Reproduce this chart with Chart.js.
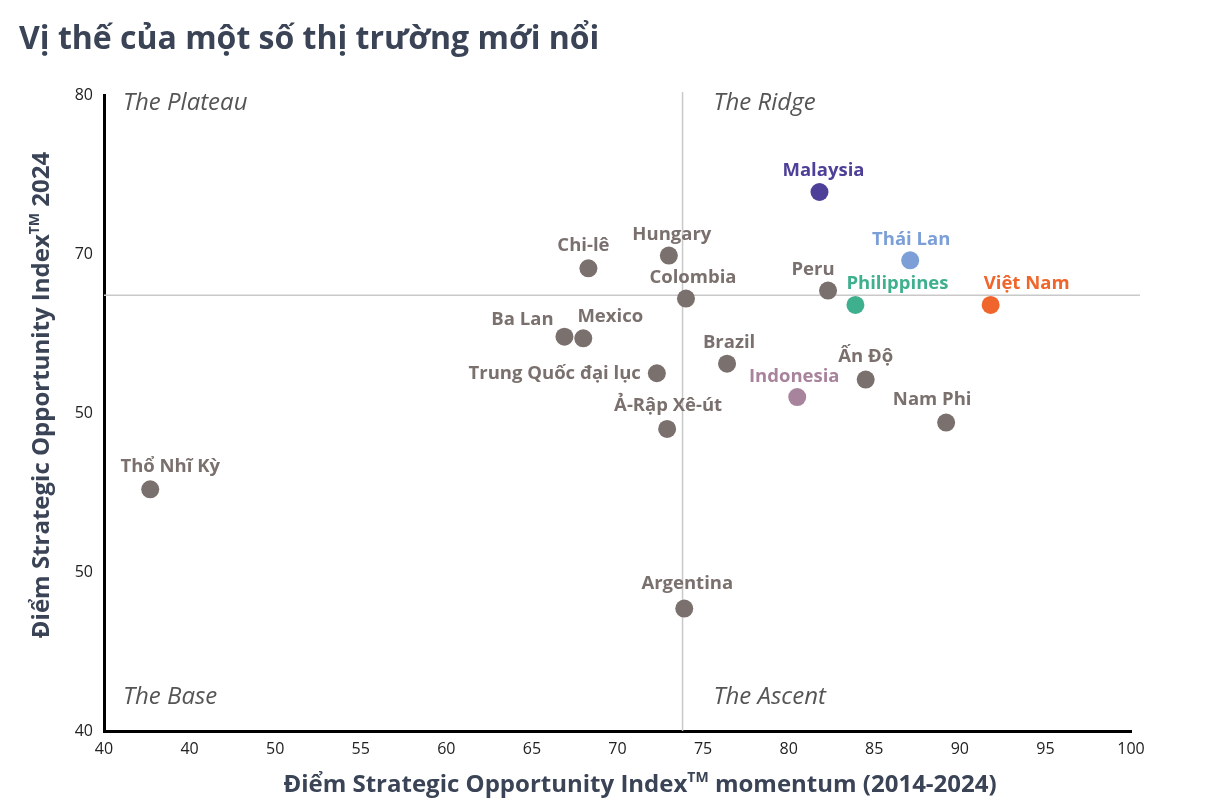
<!DOCTYPE html>
<html><head><meta charset="utf-8">
<script src="https://cdn.jsdelivr.net/npm/chart.js@4/dist/chart.umd.min.js"></script>
<style>html,body{margin:0;padding:0;background:#fff;} #wrap{width:1212px;height:810px;position:relative}</style>
</head><body><div id="wrap"><canvas id="c" width="1212" height="810"></canvas></div>
<script>
// ---- data ----
const countries = ['Malaysia','Thái Lan','Peru','Philippines','Việt Nam','Hungary','Chi-lê','Colombia','Ba Lan','Mexico','Brazil','Trung Quốc đại lục','Ấn Độ','Indonesia','Nam Phi','Ả-Rập Xê-út','Thổ Nhĩ Kỳ','Argentina'];
const momentum  = [81.8, 87.1, 82.3, 83.9, 91.8, 73.0, 68.3, 74.0, 66.9, 68.0, 76.4, 72.3, 84.5, 80.5, 89.2, 72.9, 42.7, 73.9];
const score2024 = [73.9, 69.6, 67.7, 66.8, 66.8, 69.9, 69.1, 67.2, 64.8, 64.7, 63.1, 62.5, 62.1, 61.0, 59.4, 59.0, 55.2, 47.7];
const pointColors = ['#4e3f99','#7b9fd6','#7a706d','#3fb08e','#f0652b','#7a706d','#7a706d','#7a706d','#7a706d','#7a706d','#7a706d','#7a706d','#7a706d','#a8839c','#7a706d','#7a706d','#7a706d','#7a706d'];
const xTickLabels = ['40','40','50','55','60','65','70','75','80','85','90','95','100'];
const yTickLabels = ['40','50','50','70','80'];
const quadrantX = 73.8;
const quadrantY = 67.4;
const quadrantNames = ['The Plateau','The Ridge','The Base','The Ascent'];
const chartTitle = 'Vị thế của một số thị trường mới nổi';
const xTitleParts = [['Điểm Strategic Opportunity Index',false],['TM',true],[' momentum (2014-2024)',false]];
const yTitleParts = [['Điểm Strategic Opportunity Index',false],['TM',true],[' 2024',false]];
// label placement (offset from point centre, text align)
const labelOffsets = [[4,-21,'center'],[1,-21,'center'],[-15,-21,'center'],[42,-21,'center'],[36,-21,'center'],[3,-21,'center'],[-5,-23,'center'],[7,-21,'center'],[-42,-17,'center'],[27,-22,'center'],[2,-21,'center'],[-16,0,'right'],[0,-23,'center'],[-3,-20,'center'],[-14,-23,'center'],[1,-23,'center'],[20,-23,'center'],[3,-25,'center']];

const FONT = "'Open Sans', 'Noto Sans', sans-serif";
const TITLE_COLOR = '#3a4456';

function drawRich(ctx, parts, x, y, size, color) {
  ctx.save();
  ctx.fillStyle = color;
  ctx.textBaseline = 'middle';
  let total = 0;
  const widths = parts.map(([t, sup]) => {
    ctx.font = `bold ${sup ? Math.round(size*0.6) : size}px ${FONT}`;
    const w = ctx.measureText(t).width; total += w; return w;
  });
  let cx = x - total/2;
  parts.forEach(([t, sup], i) => {
    ctx.font = `bold ${sup ? Math.round(size*0.6) : size}px ${FONT}`;
    ctx.textAlign = 'left';
    ctx.fillText(t, cx, sup ? y - size*0.3 : y);
    cx += widths[i];
  });
  ctx.restore();
}

const decor = {
  id: 'decor',
  beforeDatasetsDraw(chart) {
    const {ctx, chartArea: a, scales: {x, y}} = chart;
    const qx = x.getPixelForValue(quadrantX), qy = y.getPixelForValue(quadrantY);
    ctx.save();
    ctx.strokeStyle = '#c9c9c9'; ctx.lineWidth = 1.5;
    ctx.beginPath(); ctx.moveTo(qx, a.top - 3); ctx.lineTo(qx, a.bottom); ctx.stroke();
    ctx.beginPath(); ctx.moveTo(a.left, qy); ctx.lineTo(a.right + 9, qy); ctx.stroke();
    ctx.fillStyle = '#555'; ctx.font = `italic 24px ${FONT}`;
    ctx.textAlign = 'left'; ctx.textBaseline = 'middle';
    const lx1 = a.left + 19, lx2 = qx + 31;
    ctx.fillText(quadrantNames[0], lx1, a.top + 8);
    ctx.fillText(quadrantNames[1], lx2, a.top + 8);
    ctx.fillText(quadrantNames[2], lx1, a.bottom - 34);
    ctx.fillText(quadrantNames[3], lx2, a.bottom - 34);
    ctx.restore();
  },
  afterDatasetsDraw(chart) {
    const {ctx} = chart;
    const meta = chart.getDatasetMeta(0);
    ctx.save();
    ctx.font = `bold 18.5px ${FONT}`; ctx.textBaseline = 'middle';
    meta.data.forEach((pt, i) => {
      const [dx, dy, al] = labelOffsets[i];
      ctx.fillStyle = pointColors[i];
      ctx.textAlign = al;
      ctx.fillText(countries[i], pt.x + dx, pt.y + dy);
    });
    ctx.restore();
  },
  afterDraw(chart) {
    const {ctx} = chart;
    ctx.save();
    ctx.fillStyle = TITLE_COLOR; ctx.font = `bold 32px ${FONT}`;
    ctx.textAlign = 'left'; ctx.textBaseline = 'middle';
    ctx.fillText(chartTitle, 19, 40);
    ctx.restore();
    drawRich(ctx, xTitleParts, 640, 785, 24, TITLE_COLOR);
    ctx.save();
    ctx.translate(42, 395);
    ctx.rotate(-Math.PI/2);
    drawRich(ctx, yTitleParts, 0, 0, 24, TITLE_COLOR);
    ctx.restore();
  }
};

new Chart(document.getElementById('c'), {
  type: 'scatter',
  data: {
    datasets: [{
      data: momentum.map((v, i) => ({x: v, y: score2024[i]})),
      backgroundColor: pointColors,
      borderColor: pointColors,
      borderWidth: 0,
      pointRadius: 9,
      pointHoverRadius: 9
    }]
  },
  options: {
    responsive: false,
    devicePixelRatio: 1,
    animation: false,
    events: [],
    layout: {padding: {top: 95, right: 81, left: 0, bottom: 0}},
    plugins: {legend: {display: false}, tooltip: {enabled: false}, title: {display: false}},
    scales: {
      x: {
        type: 'linear', min: 40, max: 100,
        ticks: {stepSize: 5, color: '#222', font: {family: FONT, size: 16}, padding: 9,
          callback: (v, i) => xTickLabels[i]},
        grid: {display: false, drawTicks: false},
        border: {display: true, color: '#000', width: 3},
        afterFit: s => { s.height = 79; }
      },
      y: {
        type: 'linear', min: 40, max: 80,
        ticks: {stepSize: 10, color: '#222', font: {family: FONT, size: 16}, padding: 11,
          callback: (v, i) => yTickLabels[i]},
        grid: {display: false, drawTicks: false},
        border: {display: true, color: '#000', width: 3},
        afterFit: s => { s.width = 104; }
      }
    }
  },
  plugins: [decor]
});
</script>
</body></html>
